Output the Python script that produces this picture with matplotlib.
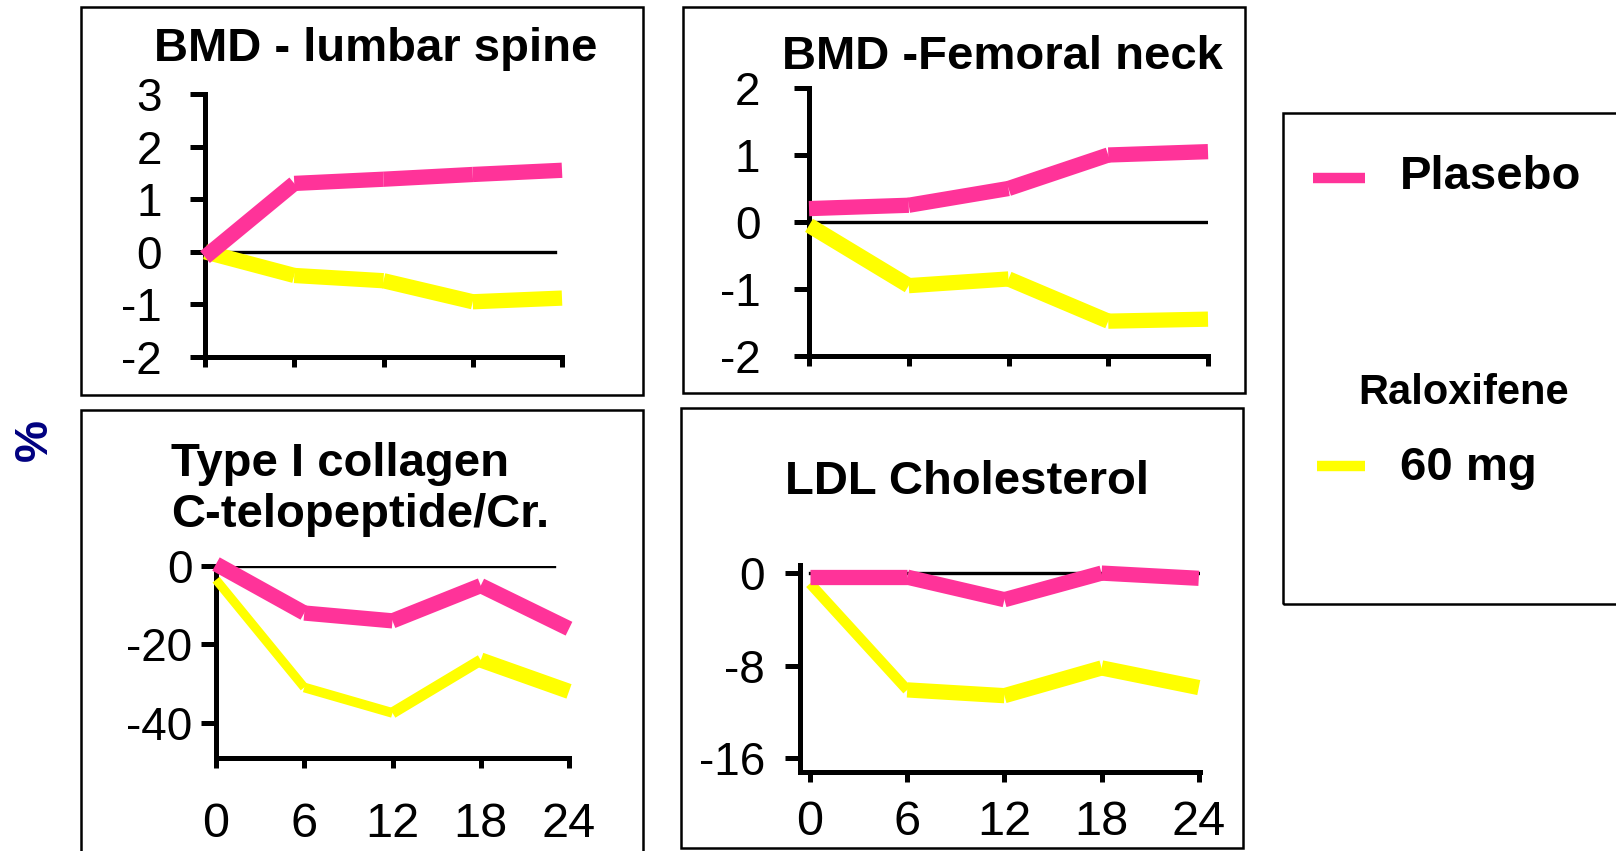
import matplotlib
matplotlib.use("Agg")
import matplotlib.pyplot as plt
from matplotlib.patches import Rectangle

plt.rcParams['font.family'] = ['Liberation Sans', 'DejaVu Sans']

W, H = 1616, 851

# months of follow-up
months = [0, 6, 12, 18, 24]
month_labels = ['0', '6', '12', '18', '24']

# % change from baseline
lumbar_placebo = [-0.1, 1.3, 1.38, 1.47, 1.55]
lumbar_ralox = [0.0, -0.45, -0.55, -0.95, -0.88]

femoral_placebo = [0.2, 0.25, 0.5, 1.0, 1.05]
femoral_ralox = [-0.05, -0.95, -0.85, -1.48, -1.45]

ctx_placebo = [0.5, -12, -14, -5, -16]
ctx_ralox = [-3.5, -31, -37.5, -24, -32]

ldl_placebo = [-0.35, -0.35, -2.3, 0.0, -0.45]
ldl_ralox = [-0.9, -10.1, -10.6, -8.2, -9.9]

titles = ['BMD - lumbar spine', 'BMD -Femoral neck',
          'Type I collagen\nC-telopeptide/Cr.', 'LDL Cholesterol']
legend_names = ['Plasebo', 'Raloxifene', '60 mg']

pink = '#FF3399'
yellow = '#FFFF00'

fig = plt.figure(figsize=(W / 100, H / 100), dpi=100)


def px_axes(x0, x1, ytop, ybot):
    return fig.add_axes([x0 / W, 1 - ybot / H, (x1 - x0) / W, (ybot - ytop) / H])


def px_box(x0, y0, x1, y1):
    fig.add_artist(Rectangle((x0 / W, 1 - y1 / H), (x1 - x0) / W, (y1 - y0) / H,
                             transform=fig.transFigure, fill=False,
                             edgecolor='black', linewidth=1.8))


def draw_series(ax, y, color, lw):
    # segment by segment with butt ends, like the original slide
    if not isinstance(lw, list):
        lw = [lw] * (len(months) - 1)
    for i in range(len(months) - 1):
        ax.plot(months[i:i + 2], y[i:i + 2], color=color, linewidth=lw[i],
                solid_capstyle='butt', clip_on=False, zorder=3)


def style(ax, ylim, yticks, ypad, xlabels, xpad, zero_end, xlim=(0, 24)):
    ax.set_xlim(*xlim)
    ax.set_ylim(*ylim)
    ax.patch.set_alpha(0)
    for s in ['top', 'right']:
        ax.spines[s].set_visible(False)
    for s in ['left', 'bottom']:
        ax.spines[s].set_linewidth(3.6)
    ax.set_yticks(yticks)
    ax.set_yticklabels([str(t) for t in yticks])
    ax.set_xticks(months)
    if xlabels:
        ax.set_xticklabels(month_labels)
    else:
        ax.set_xticklabels([])
    ax.tick_params(axis='y', direction='out', length=11, width=3.6,
                   labelsize=33, pad=ypad)
    ax.tick_params(axis='x', direction='out', length=7, width=3.6,
                   labelsize=35, pad=xpad)
    ax.plot([0, zero_end], [0, 0], color='black', linewidth=2.4, zorder=1)


# panel 1
ax1 = px_axes(205, 562, 94, 357)
style(ax1, (-2, 3), [-2, -1, 0, 1, 2, 3], 20, False, 0, 23.5)
draw_series(ax1, lumbar_ralox, yellow, 11)
draw_series(ax1, lumbar_placebo, pink, 11)

# panel 2
ax2 = px_axes(809, 1208, 88, 356)
style(ax2, (-2, 2), [-2, -1, 0, 1, 2], 24, False, 0, 24)
draw_series(ax2, femoral_ralox, yellow, 11)
draw_series(ax2, femoral_placebo, pink, 11)

# panel 3
ax3 = px_axes(216, 569, 566, 758)
style(ax3, (-49, 0), [-40, -20, 0], 6, True, 25, 23)
draw_series(ax3, ctx_ralox, yellow, [6.5, 7, 8, 11])
draw_series(ax3, ctx_placebo, pink, 11)

# panel 4 (month labels pulled up a little so they stay inside the image)
ax4 = px_axes(799.5, 1200.4, 565, 772)
style(ax4, (-17.2, 0.7), [-16, -8, 0], 14, True, 13, 24, xlim=(-0.65, 24.1))
draw_series(ax4, ldl_ralox, yellow, [7.5, 11, 11, 11])
draw_series(ax4, ldl_placebo, pink, 11)

# panel frames
px_box(81, 7, 643, 395)
px_box(683, 7, 1245, 393)
px_box(81, 410, 643, 860)
px_box(681, 408, 1243, 848)
px_box(1283, 113, 1630, 604)

# titles
fig.text(376 / W, 1 - 61 / H, titles[0], ha='center', va='baseline',
         fontsize=34, fontweight='bold')
fig.text(1002 / W, 1 - 69 / H, titles[1], ha='center', va='baseline',
         fontsize=34, fontweight='bold')
fig.text(171 / W, 1 - 527 / H, titles[2], ha='left', va='baseline',
         fontsize=34, fontweight='bold', linespacing=1.2)
fig.text(967 / W, 1 - 494 / H, titles[3], ha='center', va='baseline',
         fontsize=34, fontweight='bold')

fig.text(35 / W, 1 - 440 / H, '%', rotation=90, ha='center', va='center',
         fontsize=34, fontweight='bold', color='#000080')

# legend
fig.add_artist(plt.Line2D([1313 / W, 1365 / W], [1 - 178 / H, 1 - 178 / H],
                          color=pink, linewidth=7.5, solid_capstyle='butt'))
fig.add_artist(plt.Line2D([1317 / W, 1365 / W], [1 - 466 / H, 1 - 466 / H],
                          color=yellow, linewidth=7.5, solid_capstyle='butt'))
fig.text(1400 / W, 1 - 189 / H, legend_names[0], ha='left', va='baseline',
         fontsize=34, fontweight='bold')
fig.text(1358 / W, 1 - 404 / H, legend_names[1], ha='left', va='baseline',
         fontsize=30, fontweight='bold')
fig.text(1400 / W, 1 - 480 / H, legend_names[2], ha='left', va='baseline',
         fontsize=34, fontweight='bold')

fig.savefig('out.png', dpi=100)
